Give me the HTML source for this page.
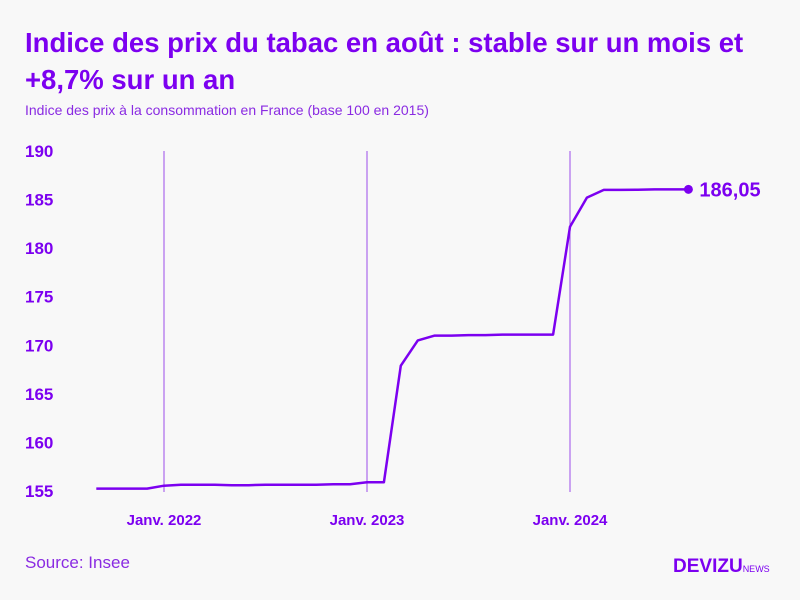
<!DOCTYPE html>
<html><head><meta charset="utf-8"><style>
body{margin:0;background:#f8f8f8;font-family:"Liberation Sans",sans-serif;}
#wrap{position:relative;width:800px;height:600px;overflow:hidden;background:#f8f8f8;}
h1{position:absolute;left:25px;top:24px;margin:0;font-size:27.5px;line-height:37px;font-weight:bold;color:#7c00f0;width:760px;}
.sub{position:absolute;left:25px;top:102px;font-size:14px;color:#8a2be2;}
.src{position:absolute;left:25px;top:553px;font-size:17px;color:#8a2be2;}
.logo{position:absolute;left:673px;top:556px;font-size:19px;font-weight:bold;color:#7c00f0;}
.logo span{font-size:9px;font-weight:normal;}
</style></head><body>
<div id="wrap">
<h1>Indice des prix du tabac en août : stable sur un mois et +8,7% sur un an</h1>
<div class="sub">Indice des prix à la consommation en France (base 100 en 2015)</div>
<svg id="chart" width="800" height="600" style="position:absolute;left:0;top:0"></svg>
<div class="src">Source: Insee</div>
<div class="logo">DEVIZU<span>NEWS</span></div>
</div>
<script>
const values=[155.25,155.25,155.25,155.25,155.55,155.65,155.65,155.65,155.6,155.6,155.65,155.65,155.65,155.65,155.7,155.7,155.9,155.9,167.9,170.5,171.0,171.0,171.05,171.05,171.1,171.1,171.1,171.1,182.2,185.2,186.0,186.0,186.02,186.05,186.05,186.05];
const startMonth=-4; // months relative to Jan 2022
const yTicks=[155,160,165,170,175,180,185,190];
const xTickLabels=["Janv. 2022","Janv. 2023","Janv. 2024"];
const xTickMonths=[0,12,24];
const lastLabel="186,05";
const svg=document.getElementById('chart');
const NS='http://www.w3.org/2000/svg';
const y=v=>491-(v-155)*(340/35);
const x=m=>164+m*(203/12);
function mk(t,a){const e=document.createElementNS(NS,t);for(const k in a)e.setAttribute(k,a[k]);svg.appendChild(e);return e;}
yTicks.forEach(t=>{const e=mk('text',{x:25,y:y(t)+6,'font-size':17,'font-weight':'bold',fill:'#7c00f0','font-family':'Liberation Sans, sans-serif'});e.textContent=t;

});
xTickMonths.forEach((m,i)=>{const l=mk('line',{x1:x(m),x2:x(m),y1:151,y2:492,stroke:'#9b4dea','stroke-width':1});


const e=mk('text',{x:x(m),y:525,'text-anchor':'middle','font-size':15,'font-weight':'bold',fill:'#7c00f0','font-family':'Liberation Sans, sans-serif'});e.textContent=xTickLabels[i];

});
const pts=values.map((v,i)=>x(startMonth+i).toFixed(1)+','+y(v).toFixed(1)).join(' ');
const pl=mk('polyline',{points:pts,fill:'none',stroke:'#7c00f0','stroke-width':2.5,'stroke-linejoin':'round'});


const li=values.length-1,lx=x(startMonth+li),ly=y(values[li]);
const c=mk('circle',{cx:lx,cy:ly,r:4.5,fill:'#7c00f0'});


const t=mk('text',{x:lx+11,y:ly+7,'font-size':20,'font-weight':'bold',fill:'#7c00f0','font-family':'Liberation Sans, sans-serif'});t.textContent=lastLabel;


</script>
</body></html>
